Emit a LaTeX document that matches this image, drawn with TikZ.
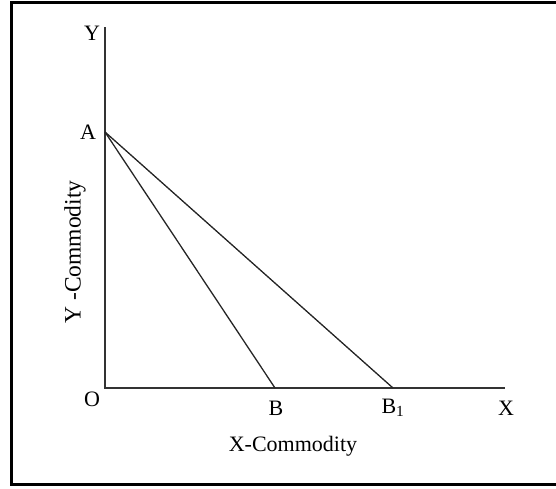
\documentclass[tikz,border=0pt]{standalone}
\usepackage{fontspec}
\setmainfont{Liberation Serif}
\begin{document}
\begin{tikzpicture}[x=1pt,y=-1pt,
  lbl/.style={inner sep=0pt,font=\fontsize{22}{26}\selectfont},
  axis/.style={line width=1.3pt,draw=black!80},
  budget/.style={line width=1.3pt,draw=black!85}]
\useasboundingbox (0,0) rectangle (556,488);
\draw[line width=3pt] (11,2) rectangle (570,484);
\coordinate (O) at (105,388);
\coordinate (Ytop) at (105,27);
\coordinate (Xend) at (505,388);
\coordinate (Apt) at (105,132);
\coordinate (Bpt) at (275,388);
\coordinate (B1pt) at (393,388);
\draw[axis] (Ytop) -- (O) -- (Xend);
\draw[budget] (Apt) -- (Bpt);
\draw[budget] (Apt) -- (B1pt);
\node[lbl] (ly) at (92,33) {Y};
\node[lbl] (la) at (88,132) {A};
\node[lbl] (lo) at (92,399) {O};
\node[lbl] (lb) at (276,408) {B};
\node[lbl] (lb1) at (393,408) {B\textsubscript{1}};
\node[lbl] (lx) at (506,408) {X};
\node[lbl] (lxc) at (293,446) {X-Commodity};
\node[lbl,rotate=90] (lyc) at (75,252) {\resizebox{143pt}{!}{Y -Commodity}};
\end{tikzpicture}
\end{document}
